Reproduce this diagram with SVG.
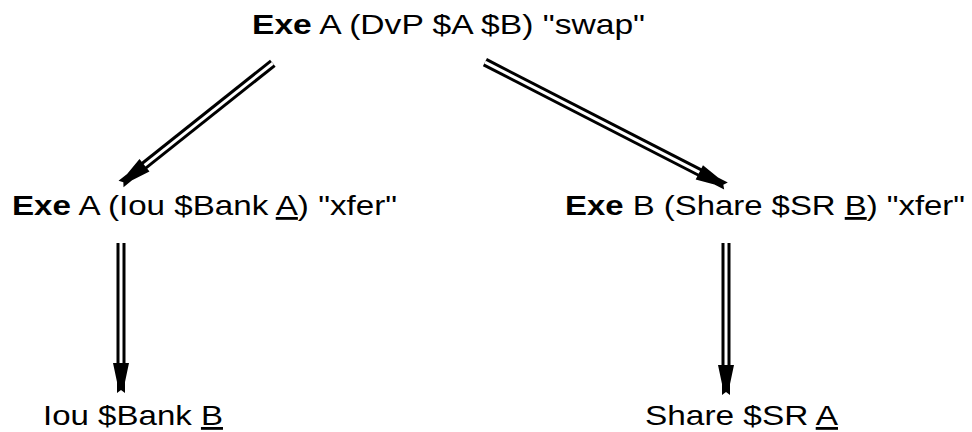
<svg xmlns="http://www.w3.org/2000/svg" width="972" height="432" viewBox="0 0 972 432">
<style>
text{font-family:"Liberation Sans",Arial,sans-serif;font-size:28px;fill:#000}
.b{font-weight:bold}
.u{text-decoration:underline}
.outer{stroke:#000;stroke-width:9;fill:none}
.inner{stroke:#fff;stroke-width:3;fill:none}
.head{fill:#000}
</style>
<defs>
<path id="ah" d="M-30,-8 L-11,-4 L0,-4 L-3,0 L0,4 L-11,4 L-30,8 Z"/>
</defs>
<rect width="972" height="432" fill="#fff"/>
<g id="connectors">
<g id="e1" transform="translate(121,184) rotate(141.5)">
<line class="outer" x1="-194" y1="0" x2="-26" y2="0"/>
<line class="inner" x1="-194" y1="0" x2="-26" y2="0"/>
<use href="#ah" class="head"/>
</g>
<g id="e2" transform="translate(726,186) rotate(27.2)">
<line class="outer" x1="-271" y1="0" x2="-26" y2="0"/>
<line class="inner" x1="-271" y1="0" x2="-26" y2="0"/>
<use href="#ah" class="head"/>
</g>
<g id="e3" transform="translate(121,393) rotate(90)">
<line class="outer" x1="-150" y1="0" x2="-26" y2="0"/>
<line class="inner" x1="-150" y1="0" x2="-26" y2="0"/>
<use href="#ah" class="head"/>
</g>
<g id="e4" transform="translate(726,395) rotate(90)">
<line class="outer" x1="-152" y1="0" x2="-26" y2="0"/>
<line class="inner" x1="-152" y1="0" x2="-26" y2="0"/>
<use href="#ah" class="head"/>
</g>
</g>
<g id="n_swap">
<text x="252" y="34" textLength="393" lengthAdjust="spacingAndGlyphs"><tspan class="b">Exe</tspan> A (DvP $A $B) "swap"</text>
</g>
<g id="n_xferA">
<text x="12" y="215" textLength="385" lengthAdjust="spacingAndGlyphs"><tspan class="b">Exe</tspan> A (Iou $Bank <tspan class="u">A</tspan>) "xfer"</text>
</g>
<g id="n_xferB">
<text x="565" y="215" textLength="400" lengthAdjust="spacingAndGlyphs"><tspan class="b">Exe</tspan> B (Share $SR <tspan class="u">B</tspan>) "xfer"</text>
</g>
<g id="n_iou">
<text x="43" y="425" textLength="180" lengthAdjust="spacingAndGlyphs">Iou $Bank <tspan class="u">B</tspan></text>
</g>
<g id="n_share">
<text x="645" y="425" textLength="193" lengthAdjust="spacingAndGlyphs">Share $SR <tspan class="u">A</tspan></text>
</g>
</svg>
